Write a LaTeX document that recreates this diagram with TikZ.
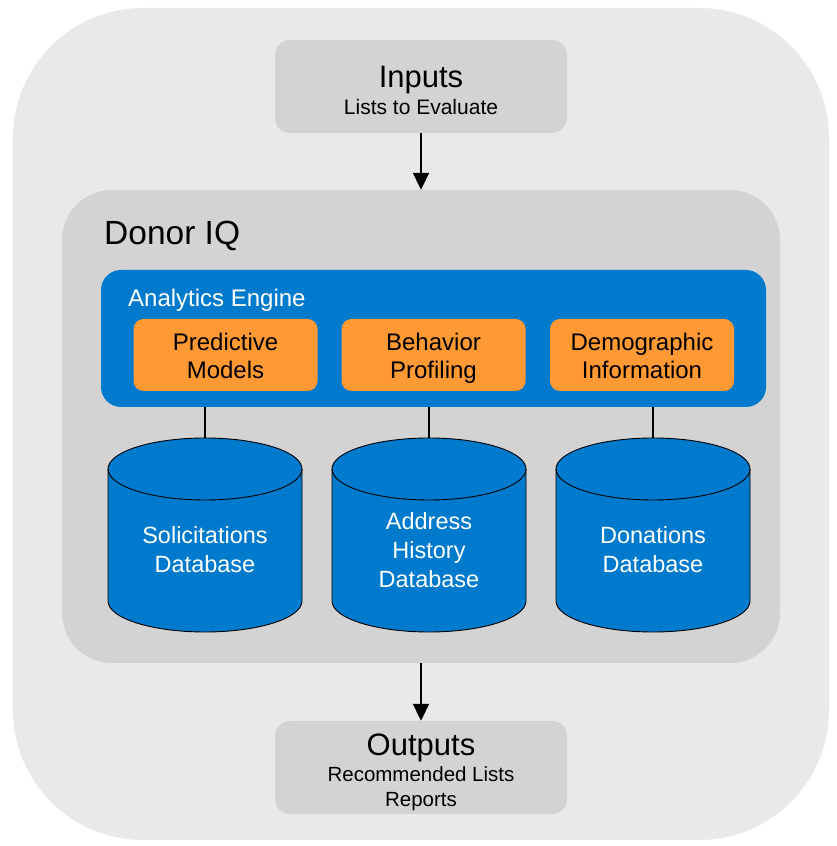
\documentclass[tikz,border=0pt]{standalone}
\usepackage{fontspec}
\setmainfont{Liberation Sans}
\usetikzlibrary{arrows.meta}
\definecolor{outergray}{RGB}{233,233,233}
\definecolor{innergray}{RGB}{211,211,211}
\definecolor{engblue}{RGB}{0,122,204}
\definecolor{engorange}{RGB}{255,153,51}
\tikzset{
  graybox/.style={fill=innergray, rounded corners=15pt, minimum width=292pt, minimum height=93pt, inner sep=0pt},
  orangebox/.style={fill=engorange, rounded corners=10pt, minimum width=184pt, minimum height=72pt, inner sep=0pt},
  orangetext/.style={align=center, font=\fontsize{24}{28}\selectfont, text=black, inner sep=0pt},
  cyltext/.style={align=center, text=white, font=\fontsize{23.5}{29}\selectfont, inner sep=0pt},
  cylfill/.style={fill=engblue},
  cylline/.style={draw=black, line width=0.9pt},
  linkline/.style={draw=black, line width=2pt},
  flowarrow/.style={draw=black, line width=2pt, -{Triangle[width=16pt,length=17pt]}},
}
\newcommand\dbcylinder[1]{%
  \fill[cylfill] (#1-97,377) -- (#1-97,245) arc[start angle=180,end angle=360,x radius=97pt,y radius=31pt] -- (#1+97,377) arc[start angle=0,end angle=180,x radius=97pt,y radius=31pt] -- cycle;
  \draw[cylline] (#1-97,377) -- (#1-97,245) arc[start angle=180,end angle=360,x radius=97pt,y radius=31pt] -- (#1+97,377);
  \draw[cylline] (#1,377) ellipse[x radius=97pt,y radius=31pt];
}
\begin{document}
\begin{tikzpicture}[x=1pt,y=1pt]
\useasboundingbox (0,0) rectangle (837,846);
\fill[white] (0,0) rectangle (837,846);
% outer panel
\fill[outergray, rounded corners=130pt] (13,6) rectangle (829,838);
% inputs
\node[graybox] (in) at (421,759.5) {};
\node[font=\fontsize{31}{36}\selectfont, anchor=base] (intitle) at (421,758) {Inputs};
\node[font=\fontsize{21}{25}\selectfont, anchor=base] (insub) at (421,731) {Lists to Evaluate};
% donor IQ panel
\node[fill=innergray, rounded corners=50pt, minimum width=718pt, minimum height=473pt, inner sep=0pt] (dq) at (421,419.5) {};
\node[font=\fontsize{33.5}{38}\selectfont, anchor=base west, inner sep=0pt] (dqtitle) at (104,601) {Donor IQ};
% analytics engine
\node[fill=engblue, rounded corners=20pt, minimum width=665pt, minimum height=137pt, inner sep=0pt] (ae) at (433.5,507.5) {};
\node[font=\fontsize{24}{28}\selectfont, text=white, anchor=base west, inner sep=0pt] (aetitle) at (128,539) {Analytics Engine};
\node[orangebox] (pm) at (225.5,491) {};
\node[orangebox] (bp) at (433.5,491) {};
\node[orangebox] (di) at (642,491) {};
\node[orangetext] (pmtext) at ([yshift=-4pt]pm.center) {Predictive\strut\\Models\strut};
\node[orangetext] (bptext) at ([yshift=-4pt]bp.center) {Behavior\strut\\Profiling\strut};
\node[orangetext] (ditext) at ([yshift=-4pt]di.center) {Demographic\strut\\Information\strut};
% databases
\dbcylinder{205}
\dbcylinder{429}
\dbcylinder{653}
\coordinate (db1top) at (205,408);
\coordinate (db2top) at (429,408);
\coordinate (db3top) at (653,408);
\node[cyltext] (db1) at (205,296) {Solicitations\\Database};
\node[cyltext] (db2) at (429,296) {Address\\History\\Database};
\node[cyltext] (db3) at (653,296) {Donations\\Database};
\draw[linkline] (ae.south -| db1top) -- (db1top);
\draw[linkline] (ae.south -| db2top) -- (db2top);
\draw[linkline] (ae.south -| db3top) -- (db3top);
% outputs
\node[graybox] (out) at (421,78.5) {};
\node[font=\fontsize{31}{36}\selectfont, anchor=base] (outtitle) at (421,90) {Outputs};
\node[font=\fontsize{20.5}{25}\selectfont, anchor=base] (outsub) at (421,64) {Recommended Lists};
\node[font=\fontsize{20.5}{25}\selectfont, anchor=base] (outsub2) at (421,39) {Reports};
% arrows
\draw[flowarrow] (in.south) -- (dq.north);
\draw[flowarrow] (dq.south) -- (out.north);
\end{tikzpicture}
\end{document}
